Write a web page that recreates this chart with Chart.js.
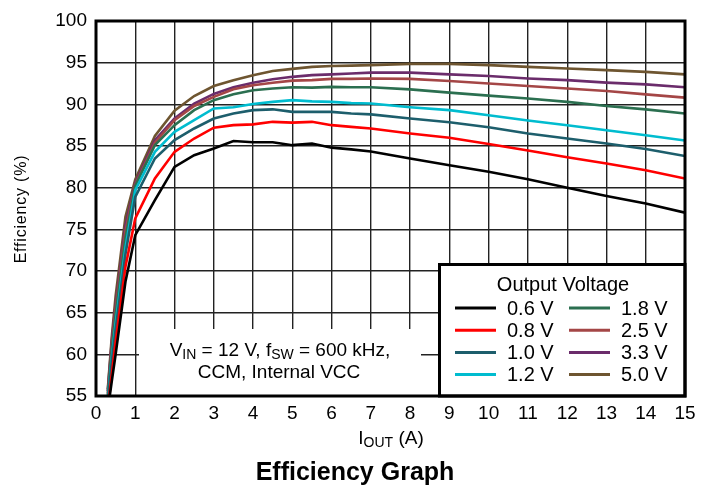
<!DOCTYPE html>
<html>
<head>
<meta charset="utf-8">
<script src="https://cdn.jsdelivr.net/npm/chart.js@4"></script>
<style>
  html, body { margin: 0; padding: 0; background: #fff; }
  #wrap { width: 708px; height: 487px; }
</style>
</head>
<body>
<div id="wrap"><canvas id="eff"></canvas></div>
<script>
// load current (A), shared by all curves
const iout = [0.3, 0.4, 0.5, 0.75, 1, 1.5, 2, 2.5, 3, 3.5, 4, 4.5, 5, 5.5, 6, 6.5, 7, 8, 9, 10, 11, 12, 13, 14, 15];

// efficiency (%) per output voltage
const eff06 = [53.3, 56.7, 60.0, 68.7, 74.3, 78.5, 82.5, 83.9, 84.7, 85.6, 85.45, 85.45, 85.1, 85.3, 84.8, 84.6, 84.35, 83.5, 82.7, 81.9, 81.0, 80.0, 79.0, 78.1, 77.0];
const eff08 = [53.5, 57.5, 61.5, 70.5, 76.3, 81.1, 84.3, 85.9, 87.2, 87.5, 87.6, 87.9, 87.8, 87.9, 87.5, 87.3, 87.1, 86.5, 86.0, 85.25, 84.45, 83.65, 82.9, 82.1, 81.1];
const eff10 = [54.3, 59.0, 63.0, 72.0, 78.9, 83.5, 85.7, 87.1, 88.3, 88.9, 89.3, 89.4, 89.1, 89.1, 89.1, 88.9, 88.8, 88.3, 87.85, 87.25, 86.5, 85.9, 85.3, 84.65, 83.8];
const eff12 = [54.6, 59.5, 63.7, 72.8, 79.7, 84.3, 86.7, 88.1, 89.5, 89.65, 90.05, 90.3, 90.5, 90.35, 90.3, 90.15, 90.1, 89.65, 89.3, 88.7, 88.05, 87.5, 86.9, 86.3, 85.65];
const eff18 = [55.0, 60.5, 64.8, 74.0, 80.2, 85.1, 87.5, 89.3, 90.5, 91.2, 91.7, 91.9, 92.05, 92.0, 92.1, 92.05, 92.05, 91.8, 91.4, 91.05, 90.7, 90.3, 89.8, 89.4, 88.9];
const eff25 = [55.3, 61.0, 65.5, 74.8, 80.4, 85.4, 88.1, 89.8, 90.9, 91.8, 92.3, 92.6, 92.85, 92.9, 93.05, 93.05, 93.1, 93.05, 92.8, 92.5, 92.2, 91.9, 91.6, 91.2, 90.8];
const eff33 = [55.6, 61.5, 66.0, 75.5, 80.6, 85.7, 88.3, 90.1, 91.25, 92.05, 92.6, 93.0, 93.3, 93.5, 93.6, 93.7, 93.8, 93.8, 93.6, 93.4, 93.1, 92.9, 92.6, 92.4, 92.05];
const eff50 = [55.8, 62.0, 67.0, 76.5, 81.0, 86.2, 89.25, 91.0, 92.2, 92.9, 93.5, 94.0, 94.25, 94.5, 94.6, 94.65, 94.7, 94.85, 94.85, 94.7, 94.5, 94.3, 94.1, 93.9, 93.6];

const labels = ['0.6 V', '0.8 V', '1.0 V', '1.2 V', '1.8 V', '2.5 V', '3.3 V', '5.0 V'];
const series = [eff06, eff08, eff10, eff12, eff18, eff25, eff33, eff50];
const colors = ['#000000', '#ff0000', '#1d5e6c', '#00bccf', '#2b6f50', '#a44646', '#6b2c6b', '#6e5530'];

const FONT = '"Liberation Sans", Arial, sans-serif';

const datasets = series.map((vals, i) => ({
    label: labels[i],
    data: vals.map((v, j) => ({ x: iout[j], y: v })),
    borderColor: colors[i],
    borderWidth: 2.6,
    pointRadius: 0,
    tension: 0,
    fill: false
}));

// draws text pieces with subscripts, centred on cx
const drawRich = (ctx, parts, cx, cy, size) => {
    const subSize = Math.round(size * 0.72);
    let total = 0;
    parts.forEach(p => {
        ctx.font = (p.sub ? subSize : size) + 'px ' + FONT;
        p.w = ctx.measureText(p.t).width;
        total += p.w;
    });
    let x = cx - total / 2;
    ctx.textAlign = 'left';
    ctx.textBaseline = 'middle';
    parts.forEach(p => {
        ctx.font = (p.sub ? subSize : size) + 'px ' + FONT;
        ctx.fillText(p.t, x, p.sub ? cy + size * 0.22 : cy);
        x += p.w;
    });
};

const decor = {
    id: 'decor',
    beforeDatasetsDraw(chart) {
        const ctx = chart.ctx;
        ctx.save();
        ctx.fillStyle = '#fff';
        // note box and legend box hide the grid
        ctx.fillRect(139, 329, 282, 68);
        ctx.fillRect(438, 263, 248, 134);
        ctx.restore();
    },
    afterDraw(chart) {
        const ctx = chart.ctx;
        const a = chart.chartArea;
        ctx.save();
        ctx.fillStyle = '#000';

        // legend
        ctx.strokeStyle = '#000';
        ctx.lineWidth = 3;
        ctx.strokeRect(439.5, 264.5, a.right - 439.5, a.bottom - 264.5);
        ctx.font = '20px ' + FONT;
        ctx.textAlign = 'center';
        ctx.textBaseline = 'middle';
        ctx.fillText('Output Voltage', 563, 285);
        ctx.textAlign = 'left';
        for (let i = 0; i < labels.length; i++) {
            const col = Math.floor(i / 4), row = i % 4;
            const y = 308 + row * 22.2;
            const x0 = col === 0 ? 455 : 569;
            ctx.strokeStyle = colors[i];
            ctx.lineWidth = 3;
            ctx.beginPath();
            ctx.moveTo(x0, y);
            ctx.lineTo(x0 + 41, y);
            ctx.stroke();
            ctx.fillText(labels[i], x0 + 52, y + 1);
        }

        // operating conditions note
        drawRich(ctx, [
            { t: 'V' }, { t: 'IN', sub: true }, { t: ' = 12 V, f' },
            { t: 'SW', sub: true }, { t: ' = 600 kHz,' }
        ], 280, 351, 19);
        ctx.font = '19px ' + FONT;
        ctx.textAlign = 'center';
        ctx.fillText('CCM, Internal VCC', 279, 373);

        // frame
        ctx.strokeStyle = '#000';
        ctx.lineWidth = 3;
        ctx.strokeRect(a.left, a.top, a.right - a.left, a.bottom - a.top);

        // axis titles
        drawRich(ctx, [{ t: 'I' }, { t: 'OUT', sub: true }, { t: ' (A)' }], 391, 439, 19);
        ctx.save();
        ctx.translate(22, 209);
        ctx.rotate(-Math.PI / 2);
        ctx.font = '16px ' + FONT;
        ctx.letterSpacing = '0.8px';
        ctx.textAlign = 'center';
        ctx.textBaseline = 'middle';
        ctx.fillText('Efficiency (%)', 0, 0);
        ctx.restore();

        // caption
        ctx.font = 'bold 25px ' + FONT;
        ctx.textAlign = 'center';
        ctx.textBaseline = 'middle';
        ctx.fillText('Efficiency Graph', 355, 473);
        ctx.restore();
    }
};

new Chart(document.getElementById('eff'), {
    type: 'line',
    data: { datasets },
    options: {
        responsive: true,
        maintainAspectRatio: false,
        animation: false,
        layout: { padding: { left: 0, right: 23, top: 21, bottom: 0 } },
        plugins: { legend: { display: false }, tooltip: { enabled: false } },
        scales: {
            x: {
                type: 'linear',
                min: 0,
                max: 15,
                ticks: { stepSize: 1, color: '#000', padding: 6, font: { family: FONT, size: 19 } },
                grid: { color: '#222', lineWidth: 1.4, drawTicks: false },
                border: { display: false },
                afterFit: (s) => { s.height = 91; }
            },
            y: {
                min: 55,
                max: 100,
                ticks: { stepSize: 5, color: '#000', padding: 9, font: { family: FONT, size: 19 } },
                grid: { color: '#222', lineWidth: 1.4, drawTicks: false },
                border: { display: false },
                afterFit: (s) => { s.width = 96; }
            }
        }
    },
    plugins: [decor]
});
</script>
</body>
</html>
